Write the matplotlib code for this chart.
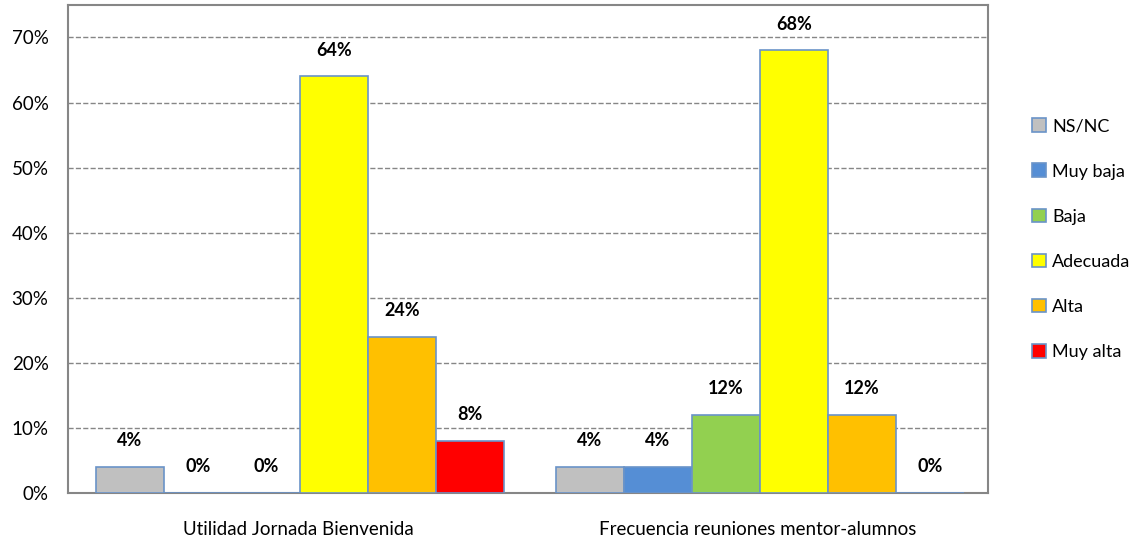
import numpy as np
import matplotlib.pyplot as plt
from matplotlib.ticker import FuncFormatter

plt.rcParams['font.family'] = ['Lato', 'DejaVu Sans']

# datos
categorias = ['Utilidad Jornada Bienvenida', 'Frecuencia reuniones mentor-alumnos']
niveles = ['NS/NC', 'Muy baja', 'Baja', 'Adecuada', 'Alta', 'Muy alta']
colores = ['#C0C0C0', '#558ED5', '#92D050', '#FFFF00', '#FFC000', '#FF0000']
valores = {
    'NS/NC':    [4, 4],
    'Muy baja': [0, 4],
    'Baja':     [0, 12],
    'Adecuada': [64, 68],
    'Alta':     [24, 12],
    'Muy alta': [8, 0],
}

fig = plt.figure(figsize=(11.37, 5.44), dpi=100)
ax = fig.add_axes([0.0598, 0.0938, 0.8093, 0.8972])

x = np.arange(len(categorias))
ancho = 0.148
for i, nivel in enumerate(niveles):
    pos = x + (i - 2.5) * ancho + 0.004
    vals = np.array(valores[nivel]) / 100
    ax.bar(pos, vals, ancho, color=colores[i], edgecolor='#6A93C8',
           linewidth=1.2, label=nivel, zorder=3)
    for p, v in zip(pos, vals):
        ax.annotate(f'{v*100:.0f}%', (p, v), xytext=(0, 19), textcoords='offset points',
                    ha='center', va='center', fontsize=13, fontweight='bold')

ax.set_xlim(-0.5, 1.5)
ax.set_ylim(0, 0.75)
ax.set_yticks(np.arange(0, 0.71, 0.1))
ax.yaxis.set_major_formatter(FuncFormatter(lambda v, _: f'{v*100:.0f}%'))
ax.set_xticks(x)
ax.set_xticklabels(categorias)
ax.tick_params(axis='both', length=0, labelsize=13.5, pad=14)
ax.tick_params(axis='x', pad=20)
ax.grid(axis='y', linestyle='--', color='#868686', linewidth=1, zorder=0)
for s in ax.spines.values():
    s.set_color('#868686')
    s.set_linewidth(1.5)

ax.legend(loc='center left', bbox_to_anchor=(1.03, 0.52), frameon=False,
          fontsize=13, handlelength=0.8, handleheight=0.8, handletextpad=0.3,
          labelspacing=1.6)

plt.savefig('out.png', dpi=100)
